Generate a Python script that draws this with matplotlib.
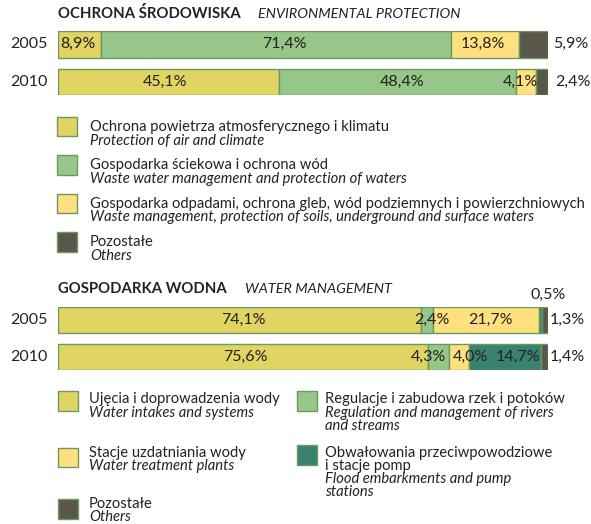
import matplotlib.pyplot as plt
from matplotlib.patches import Rectangle

plt.rcParams['font.family'] = ['Lato', 'DejaVu Sans']

W, H = 591, 524

# --- dane ---
lata = ['2005', '2010']

srodowisko_kategorie = [
    ('Ochrona powietrza atmosferycznego i klimatu', 'Protection of air and climate'),
    ('Gospodarka ściekowa i ochrona wód', 'Waste water management and protection of waters'),
    ('Gospodarka odpadami, ochrona gleb, wód podziemnych i powierzchniowych',
     'Waste management, protection of soils, underground and surface waters'),
    ('Pozostałe', 'Others'),
]
srodowisko_2005 = [8.9, 71.4, 13.8, 5.9]
srodowisko_2010 = [45.1, 48.4, 4.1, 2.4]

woda_kategorie = [
    ('Ujęcia i doprowadzenia wody', 'Water intakes and systems'),
    ('Regulacje i zabudowa rzek i potoków', 'Regulation and management of rivers\nand streams'),
    ('Stacje uzdatniania wody', 'Water treatment plants'),
    ('Obwałowania przeciwpowodziowe\ni stacje pomp', 'Flood embarkments and pump\nstations'),
    ('Pozostałe', 'Others'),
]
woda_2005 = [74.1, 2.4, 21.7, 0.5, 1.3]
woda_2010 = [75.6, 4.3, 4.0, 14.7, 1.4]

# --- kolory ---
c_zolty = '#E0D462'
c_zielony = '#96C688'
c_jasny = '#FFE07E'
c_ciemny = '#58574A'
c_morski = '#3A8270'
krawedz = '#6B9A60'
tekst = '#222222'

kolory_srod = [c_zolty, c_zielony, c_jasny, c_ciemny]
kolory_woda = [c_zolty, c_zielony, c_jasny, c_morski, c_ciemny]

FS = 11.5  # etykiety słupków i lat
FL = 10.6  # legenda
PT = 0.72  # px -> pt


def fx(x):
    return x / W


def fy(y):
    return 1 - y / H


def pct(v):
    return f'{v:.1f}%'.replace('.', ',')


fig = plt.figure(figsize=(W / 100, H / 100), dpi=100)


def wykres(top_px, skok_px, wys, wartosci, kolory, wewnatrz, przesuniecia):
    h_px = (1 + wys) * skok_px
    ax = fig.add_axes([fx(57.5), fy(top_px + h_px), fx(490.5), h_px / H])
    for i, row in enumerate(wartosci):
        lewo = 0
        for j, v in enumerate(row):
            ax.barh(i, v, left=lewo, height=wys, color=kolory[j],
                    edgecolor=krawedz, linewidth=1)
            if wewnatrz[i][j]:
                ax.annotate(pct(v), (lewo + v / 2, i),
                            xytext=(przesuniecia[i][j] * PT, 0), textcoords='offset points',
                            ha='center', va='center', fontsize=FS, color=tekst)
            lewo += v
        ax.annotate(lata[i], (0, i), xytext=(-47.5 * PT, 0), textcoords='offset points',
                    ha='left', va='center', fontsize=FS, color=tekst,
                    annotation_clip=False)
    ax.set_xlim(0, 100)
    ax.set_ylim(1 + wys / 2, -wys / 2)
    ax.axis('off')
    return ax


ax1 = wykres(30.7, 37.8, 0.71, [srodowisko_2005, srodowisko_2010], kolory_srod,
             [[1, 1, 1, 0], [1, 1, 1, 0]], [[-1, 8, -2.5, 0], [-3, 5, -6, 0]])
for i, row in enumerate([srodowisko_2005, srodowisko_2010]):
    ax1.annotate(pct(row[-1]), (100, i), xytext=((5 + 2 * i) * PT, 0),
                 textcoords='offset points', ha='left', va='center',
                 fontsize=FS, color=tekst, annotation_clip=False)

ax2 = wykres(306.7, 37.6, 0.69, [woda_2005, woda_2010], kolory_woda,
             [[1, 1, 1, 0, 0], [1, 1, 1, 1, 0]],
             [[4, 5, 5, 0, 0], [2, -10, 11, 12.5, 0]])
for i, row in enumerate([woda_2005, woda_2010]):
    ax2.annotate(pct(row[-1]), (100, i), xytext=(1.5 * PT, 0),
                 textcoords='offset points', ha='left', va='center',
                 fontsize=FS, color=tekst, annotation_clip=False)
ax2.annotate(pct(woda_2005[3]), (100, 0), xytext=(0, 25 * PT),
             textcoords='offset points', ha='center', va='center',
             fontsize=FS, color=tekst, annotation_clip=False)

# --- tytuły ---
fig.text(fx(58), fy(14), 'OCHRONA ŚRODOWISKA', fontsize=10.7, fontweight='bold',
         color=tekst, va='center')
fig.text(fx(258), fy(14), 'ENVIRONMENTAL PROTECTION', fontsize=10.4, style='italic',
         color=tekst, va='center')
fig.text(fx(58), fy(289), 'GOSPODARKA WODNA', fontsize=10.7, fontweight='bold',
         color=tekst, va='center')
fig.text(fx(245), fy(289), 'WATER MANAGEMENT', fontsize=10.4, style='italic',
         color=tekst, va='center')


def pozycja_legendy(x, y, kolor, pl, en, tx, bl, krok=13.5):
    fig.add_artist(Rectangle((fx(x), fy(y + 19.5)), fx(19.5), 19.5 / H,
                             transform=fig.transFigure, facecolor=kolor,
                             edgecolor=krawedz, linewidth=1))
    yy = bl
    for l in pl.split('\n'):
        fig.text(fx(tx), fy(yy), l, fontsize=FL, color=tekst, va='baseline')
        yy += krok
    for l in en.split('\n'):
        fig.text(fx(tx), fy(yy), l, fontsize=FL, style='italic', color=tekst,
                 va='baseline')
        yy += krok


# legenda górna
for (pl, en), kol, y in zip(srodowisko_kategorie, kolory_srod, [117, 155, 193.5, 232]):
    pozycja_legendy(57, y, kol, pl, en, 90, y + 14.5)

# legenda dolna
poz_woda = [(58, 391, 89, 403.5), (297, 391, 325, 403.5), (58, 447.5, 89, 457),
            (297, 445, 325, 457), (58, 499, 89, 508)]
for (pl, en), kol, (x, y, tx, bl) in zip(woda_kategorie, kolory_woda, poz_woda):
    pozycja_legendy(x, y, kol, pl, en, tx, bl, 13)

fig.savefig('out.png', dpi=100)
